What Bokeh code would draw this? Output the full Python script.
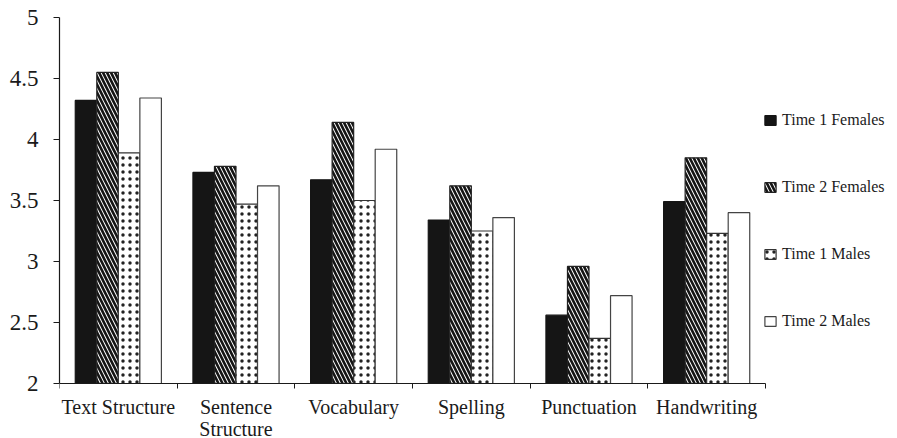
from bokeh.plotting import figure
from bokeh.models import ColumnDataSource, FixedTicker, Range1d, Legend, LegendItem
from bokeh.transform import dodge
from bokeh.embed import file_html
from bokeh.resources import INLINE

categories = ["Text Structure", "Sentence\nStructure", "Vocabulary", "Spelling", "Punctuation", "Handwriting"]
time1_females = [4.32, 3.73, 3.67, 3.34, 2.56, 3.49]
time2_females = [4.55, 3.78, 4.14, 3.62, 2.96, 3.85]
time1_males = [3.89, 3.47, 3.50, 3.25, 2.37, 3.23]
time2_males = [4.34, 3.62, 3.92, 3.36, 2.72, 3.40]
series_names = ["Time 1 Females", "Time 2 Females", "Time 1 Males", "Time 2 Males"]
y_ticks = [2, 2.5, 3, 3.5, 4, 4.5, 5]
y_tick_labels = ["2", "2.5", "3", "3.5", "4", "4.5", "5"]

FONT = "Liberation Serif"
TXT = "#1a1a1a"
n = len(categories)
centers = [i + 0.5 for i in range(n)]
src = ColumnDataSource(dict(x=centers, t1f=time1_females, t2f=time2_females,
                            t1m=time1_males, t2m=time2_males))

# layout in pixels
W, H = 897, 438
left, top = 59, 17
axis_bottom_px = 383         # where y = 2 sits
frame_bottom_px = H
axis_right_px = 765          # where the category axis ends
frame_right_px = W - 2
x_end = n * (frame_right_px - left) / (axis_right_px - left)
y_lo, y_hi = y_ticks[0], y_ticks[-1]
y_start = y_lo - (frame_bottom_px - axis_bottom_px) * (y_hi - y_lo) / (axis_bottom_px - top)

p = figure(width=W, height=H, output_backend="svg", toolbar_location=None,
           x_range=Range1d(0, x_end), y_range=Range1d(y_start, y_hi),
           min_border_left=left, min_border_top=top, min_border_right=W - frame_right_px,
           min_border_bottom=H - frame_bottom_px)
p.outline_line_color = None
p.xgrid.visible = False
p.ygrid.visible = False

w = 0.183
offs = [-1.5 * w, -0.5 * w, 0.5 * w, 1.5 * w]
styles = [
    dict(fill_color="#151515", line_color="#151515"),
    dict(fill_color="white", line_color="#222222", hatch_pattern="\\", hatch_color="#151515",
         hatch_weight=2.6, hatch_scale=8),
    dict(fill_color="white", line_color="#333333", hatch_pattern=".", hatch_color="#222222",
         hatch_weight=0.4, hatch_scale=7),
    dict(fill_color="white", line_color="#444444"),
]
fields = ["t1f", "t2f", "t1m", "t2m"]
renderers = []
for f, o, st in zip(fields, offs, styles):
    r = p.vbar(x=dodge("x", o, range=p.x_range), top=f, bottom=y_lo, width=w, source=src,
               line_width=1.2, **st)
    renderers.append(r)

# x axis drawn at y = 2 inside the frame: labels at centers, ticks at category boundaries
xa = p.xaxis[0]
xa.fixed_location = y_lo
xa.bounds = (0, n)
xa.ticker = FixedTicker(ticks=centers, minor_ticks=list(range(n + 1)))
xa.major_label_overrides = {c: lab for c, lab in zip(centers, categories)}
xa.major_tick_out = 0
xa.major_tick_in = 0
xa.minor_tick_out = 5
xa.minor_tick_in = 0
xa.minor_tick_line_color = TXT
xa.axis_line_color = TXT
xa.axis_line_width = 1.2
xa.major_label_text_font = FONT
xa.major_label_text_font_size = "20px"
xa.major_label_text_color = TXT
xa.major_label_text_line_height = 1.0
xa.major_label_standoff = 7

ya = p.yaxis[0]
ya.bounds = (y_lo, y_hi)
ya.ticker = FixedTicker(ticks=y_ticks, minor_ticks=[])
ya.major_label_overrides = {t: l for t, l in zip(y_ticks, y_tick_labels)}
ya.major_tick_out = 6
ya.major_tick_in = 0
ya.minor_tick_out = 0
ya.minor_tick_in = 0
ya.axis_line_color = TXT
ya.axis_line_width = 1.2
ya.major_tick_line_color = TXT
ya.major_label_text_font = FONT
ya.major_label_text_font_size = "23px"
ya.major_label_text_color = TXT
ya.major_label_standoff = 15

legend_rows_px = [120, 187, 254, 321]   # vertical centres of the legend entries
for name, r, cy in zip(series_names, renderers, legend_rows_px):
    lg = Legend(items=[LegendItem(label=name, renderers=[r])],
                location=(763 - left, frame_bottom_px - cy - 9),
                orientation="vertical", padding=0, margin=0, spacing=0,
                glyph_width=14, glyph_height=12, label_height=12, label_standoff=5,
                label_text_font=FONT, label_text_font_size="16px", label_text_color=TXT,
                border_line_color=None, background_fill_alpha=0)
    p.add_layout(lg, "center")

open("out.html", "w").write(file_html(p, INLINE))
